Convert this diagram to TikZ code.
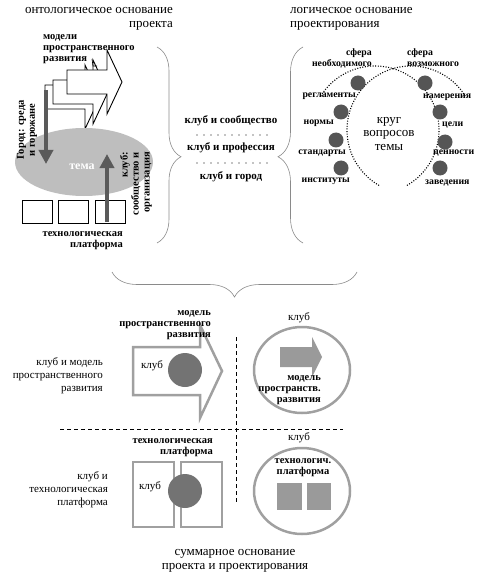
\documentclass[tikz,border=0pt]{standalone}
\usepackage{fontspec}
\setmainfont{Liberation Serif}
\usetikzlibrary{arrows.meta,decorations.pathreplacing,shapes.geometric}

\definecolor{ringgray}{HTML}{A0A0A0}
\definecolor{dotgray}{HTML}{555555}
\definecolor{discgray}{HTML}{737373}
\definecolor{fieldgray}{HTML}{BEBEBE}
\definecolor{squaregray}{HTML}{9A9A9A}
\definecolor{bargray}{HTML}{5A5A5A}
\definecolor{bracegray}{HTML}{8A8A8A}

\tikzset{
  boldlbl/.style={font=\fontsize{10.5}{11}\selectfont\bfseries, inner sep=0pt},
  smallbold/.style={font=\fontsize{9.8}{11}\selectfont\bfseries, inner sep=0pt},
  plainlbl/.style={font=\fontsize{11}{13}\selectfont, inner sep=0pt},
  titlelbl/.style={font=\fontsize{13}{14}\selectfont, inner sep=0pt},
  bigarrow/.style={draw=black, fill=white, line width=0.9pt, line join=miter},
  bararrow/.style={draw=bargray, line width=4.5pt, -{Triangle[width=14pt,length=14pt]}},
  dotnode/.style={circle, fill=dotgray, minimum size=15pt, inner sep=0pt},
  discnode/.style={circle, fill=discgray, minimum size=34pt, inner sep=0pt},
  ringline/.style={draw=ringgray, line width=2.5pt},
  bracestyle/.style={draw=bracegray, line width=0.6pt, decorate},
  sphereline/.style={line width=1.1pt, dash pattern=on 1pt off 1.6pt},
  gridline/.style={line width=0.9pt, dash pattern=on 4pt off 3pt},
}

\begin{document}
\begin{tikzpicture}[x=1pt,y=-1pt]
  \useasboundingbox (0,0) rectangle (490,580);

  %% онтологическое основание
  \node[titlelbl, align=right, anchor=east] (ontoTitle) at (173,19) {онтологическое основание\\проекта};

  % модели (три стрелки)
  \draw[bigarrow, shift={(-22,15)}] (67,70) -- (107,70) -- (107,50) -- (122,82) -- (107,114) -- (107,94) -- (67,94) -- cycle;
  \draw[bigarrow, shift={(-14,10)}] (67,70) -- (107,70) -- (107,50) -- (122,82) -- (107,114) -- (107,94) -- (67,94) -- cycle;
  \draw[bigarrow] (67,70) -- (107,70) -- (107,50) -- (122,82) -- (107,114) -- (107,94) -- (67,94) -- cycle;
  \node[boldlbl, align=left, anchor=west] (modelsLbl) at (43,49) {модели\\пространственного\\развития};
  \draw[line width=0.6pt] (92,59) -- (93,66) -- (97,66);

  % тема
  \node[ellipse, fill=fieldgray, minimum width=138pt, minimum height=68pt, inner sep=0pt] (theme) at (84,162) {};
  \node[font=\fontsize{12}{13}\selectfont\bfseries, inner sep=0pt, text=white] (themeLbl) at (82,167) {тема};

  % город
  \coordinate (cityTop) at (46,90);
  \coordinate (cityEnd) at (46,164);
  \draw[bararrow] (cityTop) -- (cityEnd);
  \node[boldlbl, rotate=90, align=center] (cityLbl) at (27,130) {Город: среда\\и горожане};

  % платформа
  \draw[black, line width=0.8pt] (22,200) rectangle (52,223);
  \draw[black, line width=0.8pt] (58,200) rectangle (88,223);
  \draw[black, line width=0.8pt] (95,200) rectangle (125,223);
  \node[boldlbl, align=right, anchor=east] (platformLbl) at (123,241) {технологическая\\платформа};

  % клуб
  \coordinate (clubBottom) at (107,222);
  \coordinate (clubEnd) at (107,154);
  \draw[bararrow] (clubBottom) -- (clubEnd);
  \node[boldlbl, rotate=90, align=right, anchor=east] (clubLbl) at (136,152) {клуб:\\сообщество и\\организация};

  %% середина
  \draw[bracestyle, decoration={brace, amplitude=24pt, aspect=0.56}] (157,47) -- (157,243);
  \draw[bracestyle, decoration={brace, amplitude=25pt, aspect=0.44}] (303,243) -- (303,47);

  \node[boldlbl, font=\fontsize{11}{12}\selectfont\bfseries] (pairCommunity) at (231,121) {клуб и сообщество};
  \node[boldlbl, font=\fontsize{11}{12}\selectfont\bfseries] (pairProfession) at (231,148) {клуб и профессия};
  \node[boldlbl, font=\fontsize{11}{12}\selectfont\bfseries] (pairCity) at (231,177) {клуб и город};
  \draw[line width=1.4pt, line cap=round, dash pattern=on 0pt off 7pt] (197,135) -- (268,135);
  \draw[line width=1.4pt, line cap=round, dash pattern=on 0pt off 7pt] (197,163) -- (268,163);

  %% логическое основание
  \node[titlelbl, align=left, anchor=west] (logicTitle) at (290,19) {логическое основание\\проектирования};

  \draw[sphereline] (375,130) ++(-148:64) arc[start angle=-148, end angle=61, radius=64];
  \draw[sphereline] (411,130) ++(-32:64) arc[start angle=-32, end angle=-241, radius=64];
  \node[smallbold, align=right, anchor=east] (needLbl) at (372,58) {сфера\\необходимого};
  \node[smallbold, align=left, anchor=west] (possLbl) at (407,58) {сфера\\возможного};
  \node[titlelbl, align=center, font=\fontsize{13}{13.5}\selectfont] (circleLbl) at (389,134) {круг\\вопросов\\темы};

  % сфера необходимого
  \node[dotnode] (reg) at (358,83) {};
  \node[dotnode] (norm) at (341,112) {};
  \node[dotnode] (std) at (336,140) {};
  \node[dotnode] (inst) at (341,168) {};
  \node[smallbold, anchor=east] (regLbl) at (356,96) {регламенты};
  \node[smallbold, anchor=east] (normLbl) at (334,123) {нормы};
  \node[smallbold, anchor=east] (stdLbl) at (346,153) {стандарты};
  \node[smallbold, anchor=east] (instLbl) at (350,181) {институты};

  % сфера возможного
  \node[dotnode] (intent) at (425,83) {};
  \node[dotnode] (goal) at (440,112) {};
  \node[dotnode] (value) at (445,142) {};
  \node[dotnode] (venue) at (440,168) {};
  \node[smallbold, anchor=west] (intentLbl) at (423,97) {намерения};
  \node[smallbold, anchor=west] (goalLbl) at (442,125) {цели};
  \node[smallbold, anchor=west] (valueLbl) at (433,153) {ценности};
  \node[smallbold, anchor=west] (venueLbl) at (425,183) {заведения};

  %% нижняя скобка
  \draw[bracestyle, decoration={brace, amplitude=25pt, aspect=0.5}] (357,272) -- (112,272);

  %% суммарное основание
  \draw[gridline] (236,337) -- (236,502);
  \draw[gridline] (60,429) -- (343,429);

  % клуб и модель
  \node[plainlbl, align=right, anchor=east] (clubModelLbl) at (103,376) {клуб и модель\\пространственного\\развития};
  \draw[ringline, line join=miter] (133,347) -- (200,347) -- (200,325) -- (222,371) -- (200,418) -- (200,395) -- (133,395) -- cycle;
  \node[discnode] (modelDisc) at (185,370) {};
  \node[plainlbl] (modelClub) at (152,366) {клуб};
  \node[boldlbl, align=right, anchor=east] (modelLbl) at (211,325) {модель\\пространственного\\развития};

  \node[plainlbl] (clubTopLbl) at (299,318) {клуб};
  \draw[ringline] (302,370) ellipse[x radius=48, y radius=43];
  \fill[squaregray] (280,347) -- (312,347) -- (312,337) -- (322,357) -- (312,377) -- (312,367) -- (280,367) -- cycle;
  \node[boldlbl, align=right, anchor=east] (modelShortLbl) at (321,390) {модель\\пространств.\\развития};

  % клуб и платформа
  \node[plainlbl, align=right, anchor=east] (clubPlatLbl) at (108,490) {клуб и\\технологическая\\платформа};
  \node[boldlbl, align=right, anchor=east] (platLbl) at (213,448) {технологическая\\платформа};
  \draw[ringline] (133,462) rectangle (174,527);
  \draw[ringline] (181,462) rectangle (222,527);
  \node[discnode] (platDisc) at (185,491) {};
  \node[plainlbl] (platClub) at (150,487) {клуб};

  \node[plainlbl] (clubBotLbl) at (299,438) {клуб};
  \draw[ringline] (302,491) ellipse[x radius=48, y radius=43];
  \node[boldlbl, align=center] (platShortLbl) at (303,468) {технологич.\\платформа};
  \fill[squaregray] (277,483) rectangle (302,510);
  \fill[squaregray] (307,483) rectangle (331,510);

  \node[titlelbl, align=center] (sumTitle) at (235,561) {суммарное основание\\проекта и проектирования};
\end{tikzpicture}
\end{document}
